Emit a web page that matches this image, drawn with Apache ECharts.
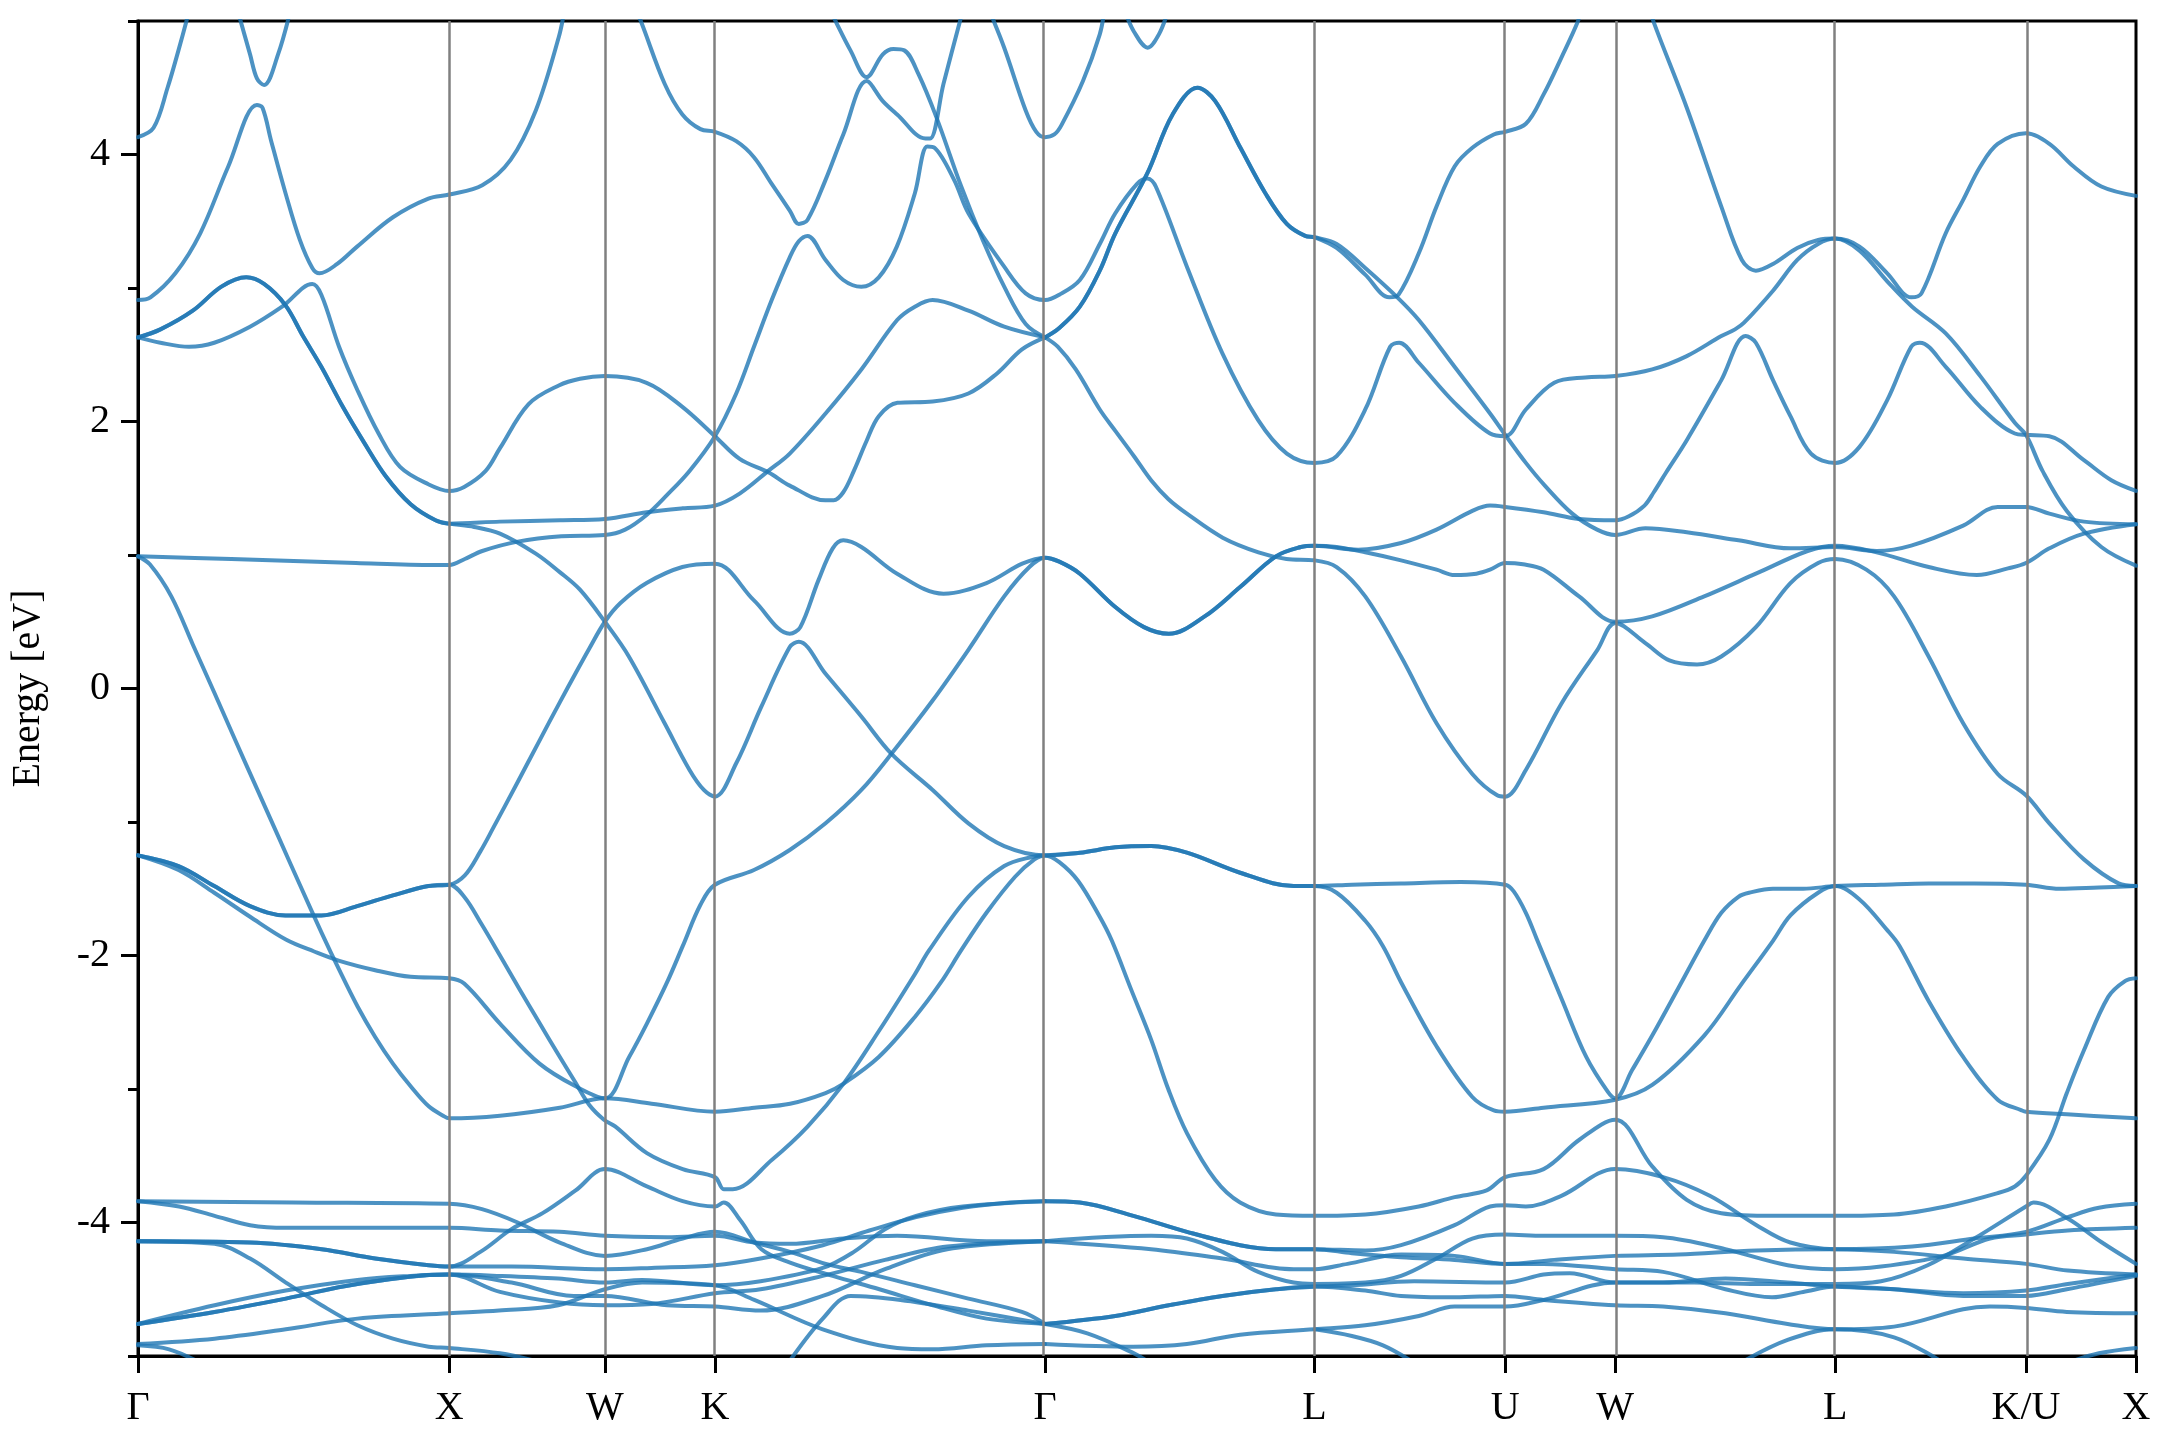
<!DOCTYPE html>
<html>
<head>
<meta charset="utf-8">
<script src="https://cdn.jsdelivr.net/npm/echarts@6/dist/echarts.min.js"></script>
<style>html,body{margin:0;padding:0;background:#fff}#c{width:2160px;height:1440px}</style>
</head>
<body>
<div id="c"></div>
<script>
// high-symmetry path positions and labels
const kTicks = [0, 1, 1.5, 1.8536, 2.9142, 3.7802, 4.3926, 4.7462, 5.4533, 6.0657, 6.4193];
const kLabels = ['Γ', 'X', 'W', 'K', 'Γ', 'L', 'U', 'W', 'L', 'K/U', 'X'];
const yMajorTicks = [-4, -2, 0, 2, 4];
const yMinorTicks = [-5, -3, -1, 1, 3, 5];

// bands: [k, E(eV)]
const band01 = [[0,4.13],[0.05,4.20],[0.095,4.50],[0.13,4.78],[0.165,5.08]];
const band02 = [[0.32,5.08],[0.36,4.75],[0.382,4.57],[0.405,4.52],[0.45,4.75],[0.49,5.08]];
const band03 = [[0,2.91],[0.04,2.93],[0.12,3.11],[0.2,3.41],[0.29,3.91],[0.382,4.37],[0.40,4.35],[0.428,4.10],[0.474,3.71],[0.52,3.36],[0.56,3.15],[0.583,3.11],[0.64,3.18],[0.704,3.31],[0.819,3.53],[0.933,3.67],[1,3.70],[1.106,3.77],[1.197,3.96],[1.278,4.33],[1.352,4.88],[1.37,5.08]];
const band04 = [[0,2.63],[0.072,2.69],[0.176,2.83],[0.268,3.01],[0.348,3.08],[0.405,3.03],[0.474,2.87],[0.53,2.64],[0.589,2.41],[0.658,2.11],[0.727,1.84],[0.796,1.59],[0.876,1.38],[0.956,1.26],[1,1.235],[1.163,1.25],[1.356,1.26],[1.5,1.27],[1.634,1.32],[1.75,1.35],[1.8536,1.37],[1.933,1.46],[2.025,1.63],[2.094,1.76],[2.209,2.06],[2.324,2.39],[2.439,2.76],[2.496,2.86],[2.553,2.91],[2.668,2.83],[2.783,2.71],[2.9142,2.63]];
const band05 = [[0,2.63],[0.072,2.69],[0.176,2.83],[0.268,3.01],[0.348,3.08],[0.405,3.03],[0.474,2.87],[0.53,2.64],[0.589,2.41],[0.658,2.11],[0.727,1.84],[0.796,1.59],[0.876,1.38],[0.956,1.26],[1,1.235],[1.08,1.21],[1.163,1.16],[1.278,1.01],[1.356,0.87],[1.42,0.74],[1.5,0.50],[1.577,0.24],[1.692,-0.26],[1.772,-0.61],[1.818,-0.76],[1.8536,-0.81],[1.922,-0.56],[2.002,-0.14],[2.094,0.31],[2.123,0.35],[2.209,0.11],[2.324,-0.21],[2.421,-0.49],[2.553,-0.76],[2.668,-1.01],[2.783,-1.18],[2.9142,-1.25],[3.026,-1.23],[3.14,-1.19],[3.255,-1.18],[3.37,-1.23],[3.541,-1.38],[3.713,-1.48],[3.7802,-1.48],[3.851,-1.53],[3.943,-1.74],[4.0,-1.93],[4.058,-2.20],[4.172,-2.68],[4.287,-3.06],[4.356,-3.16],[4.3926,-3.17],[4.516,-3.14],[4.7462,-3.08],[4.865,-2.97],[5.032,-2.60],[5.15,-2.22],[5.253,-1.89],[5.309,-1.70],[5.398,-1.53],[5.4533,-1.48],[5.531,-1.58],[5.62,-1.81],[5.66,-1.93],[5.753,-2.34],[5.864,-2.76],[5.975,-3.08],[6.052,-3.16],[6.0657,-3.17],[6.197,-3.19],[6.4193,-3.22]];
const band06 = [[0,2.63],[0.072,2.59],[0.164,2.56],[0.245,2.59],[0.36,2.71],[0.463,2.86],[0.56,3.03],[0.589,2.95],[0.646,2.56],[0.704,2.24],[0.773,1.91],[0.842,1.66],[0.933,1.53],[1,1.48],[1.048,1.51],[1.117,1.63],[1.163,1.80],[1.255,2.13],[1.352,2.27],[1.42,2.32],[1.5,2.34],[1.634,2.29],[1.749,2.11],[1.8536,1.89],[1.933,1.72],[2.025,1.62],[2.094,1.52],[2.209,1.41],[2.235,1.41],[2.266,1.47],[2.30,1.63],[2.34,1.85],[2.38,2.04],[2.44,2.14],[2.553,2.15],[2.668,2.21],[2.76,2.36],[2.84,2.54],[2.9142,2.63]];
const band07 = [[0,0.99],[0.3,0.97],[0.7,0.94],[0.95,0.925],[1,0.925],[1.05,0.97],[1.106,1.03],[1.22,1.10],[1.36,1.14],[1.5,1.15],[1.565,1.19],[1.634,1.30],[1.70,1.45],[1.772,1.63],[1.8536,1.89],[1.922,2.21],[1.979,2.56],[2.036,2.91],[2.094,3.23],[2.123,3.35],[2.151,3.39],[2.209,3.21],[2.266,3.06],[2.324,3.01],[2.38,3.08],[2.438,3.31],[2.496,3.71],[2.536,4.06],[2.559,4.05],[2.622,3.81],[2.668,3.56],[2.783,3.16],[2.852,2.96],[2.9142,2.91],[2.96,2.95],[3.026,3.06],[3.09,3.33],[3.14,3.56],[3.21,3.78],[3.243,3.82],[3.27,3.76],[3.37,3.16],[3.484,2.51],[3.599,2.01],[3.691,1.76],[3.7802,1.69],[3.851,1.74],[3.943,2.09],[4.023,2.56],[4.052,2.59],[4.115,2.44],[4.23,2.14],[4.344,1.91],[4.3926,1.89],[4.459,2.09],[4.55,2.29],[4.65,2.33],[4.7462,2.34],[4.865,2.39],[4.976,2.49],[5.087,2.64],[5.131,2.69],[5.16,2.74],[5.253,2.98],[5.331,3.21],[5.398,3.33],[5.4533,3.37],[5.531,3.28],[5.62,3.05],[5.70,2.86],[5.808,2.66],[5.919,2.34],[6.03,1.99],[6.0657,1.90],[6.119,1.63],[6.197,1.33],[6.308,1.06],[6.4193,0.92]];
const band08 = [[1.60,5.08],[1.617,4.99],[1.692,4.53],[1.749,4.30],[1.807,4.19],[1.8536,4.17],[1.922,4.10],[1.979,3.98],[2.036,3.78],[2.094,3.58],[2.123,3.48],[2.151,3.51],[2.209,3.81],[2.266,4.15],[2.341,4.55],[2.393,4.40],[2.439,4.30],[2.53,4.12],[2.545,4.12],[2.588,4.53],[2.64,4.99],[2.65,5.08]];
const band09 = [[2.225,5.08],[2.243,4.99],[2.289,4.78],[2.341,4.58],[2.393,4.75],[2.427,4.79],[2.462,4.78],[2.508,4.60],[2.565,4.28],[2.645,3.76],[2.714,3.36],[2.783,3.01],[2.852,2.73],[2.9142,2.63]];
const band10 = [[2.735,5.08],[2.783,4.80],[2.852,4.33],[2.886,4.17],[2.9142,4.13],[2.944,4.15],[2.967,4.22],[3.036,4.55],[3.09,4.90],[3.105,5.08]];
const band11 = [[3.17,5.08],[3.2,4.92],[3.244,4.80],[3.28,4.90],[3.31,5.08]];
const band12 = [[2.9142,2.63],[2.96,2.70],[3.026,2.86],[3.09,3.13],[3.14,3.41],[3.243,3.86],[3.324,4.30],[3.404,4.50],[3.461,4.40],[3.542,4.05],[3.622,3.71],[3.691,3.48],[3.75,3.39],[3.7802,3.38],[3.851,3.30],[3.943,3.10],[4.02,2.93],[4.05,2.95],[4.115,3.26],[4.172,3.61],[4.23,3.91],[4.287,4.05],[4.356,4.15],[4.3926,4.17],[4.459,4.23],[4.516,4.45],[4.574,4.73],[4.625,4.99],[4.635,5.08]];
const band13 = [[2.9142,2.63],[2.96,2.70],[3.026,2.86],[3.09,3.13],[3.14,3.41],[3.243,3.86],[3.324,4.30],[3.404,4.50],[3.461,4.40],[3.542,4.05],[3.622,3.71],[3.691,3.48],[3.75,3.39],[3.7802,3.38],[3.851,3.33],[3.943,3.15],[4.046,2.93],[4.115,2.76],[4.23,2.41],[4.344,2.06],[4.3926,1.90],[4.459,1.69],[4.52,1.52],[4.608,1.31],[4.688,1.19],[4.7462,1.15],[4.843,1.20],[4.976,1.17],[5.142,1.11],[5.309,1.05],[5.4533,1.06],[5.586,1.03],[5.697,1.07],[5.864,1.22],[5.975,1.36],[6.0657,1.36],[6.141,1.31],[6.252,1.25],[6.4193,1.23]];
const band14 = [[4.86,5.08],[4.87,4.99],[4.976,4.35],[5.087,3.61],[5.153,3.21],[5.198,3.13],[5.253,3.18],[5.331,3.30],[5.398,3.36],[5.4533,3.37],[5.531,3.31],[5.62,3.11],[5.697,2.93],[5.73,2.96],[5.808,3.41],[5.864,3.66],[5.919,3.91],[5.975,4.08],[6.0657,4.16],[6.141,4.08],[6.219,3.91],[6.308,3.76],[6.4193,3.69]];
const band15 = [[0,-1.25],[0.13,-1.36],[0.245,-1.53],[0.36,-1.71],[0.475,-1.88],[0.566,-1.97],[0.647,-2.04],[0.762,-2.11],[0.876,-2.16],[1,-2.17],[1.048,-2.21],[1.163,-2.51],[1.29,-2.81],[1.406,-2.98],[1.5,-3.07],[1.578,-2.76],[1.635,-2.51],[1.70,-2.20],[1.75,-1.93],[1.807,-1.62],[1.8536,-1.47],[1.979,-1.36],[2.094,-1.21],[2.209,-1.01],[2.324,-0.76],[2.427,-0.47],[2.553,-0.09],[2.668,0.29],[2.783,0.69],[2.864,0.91],[2.9142,0.98],[2.96,0.95],[3.026,0.86],[3.14,0.61],[3.232,0.46],[3.312,0.41],[3.427,0.54],[3.541,0.76],[3.656,0.99],[3.736,1.06],[3.7802,1.07],[3.92,1.04],[4.058,1.09],[4.172,1.19],[4.287,1.33],[4.344,1.37],[4.3926,1.36],[4.516,1.32],[4.63,1.27],[4.7462,1.26],[4.79,1.29],[4.84,1.37],[4.87,1.47],[4.91,1.62],[4.976,1.86],[5.087,2.31],[5.165,2.64],[5.198,2.59],[5.253,2.31],[5.309,2.04],[5.375,1.76],[5.4533,1.69],[5.531,1.81],[5.62,2.16],[5.697,2.56],[5.725,2.59],[5.808,2.41],[5.919,2.11],[6.03,1.91],[6.0657,1.90],[6.141,1.89],[6.252,1.71],[6.34,1.56],[6.4193,1.48]];
const band16 = [[0,-1.25],[0.13,-1.33],[0.245,-1.48],[0.36,-1.63],[0.474,-1.70],[0.589,-1.70],[0.704,-1.63],[0.819,-1.55],[0.933,-1.48],[1,-1.47],[1.05,-1.40],[1.1,-1.22],[1.14,-1.05],[1.22,-0.70],[1.29,-0.39],[1.356,-0.10],[1.405,0.11],[1.45,0.30],[1.5,0.50],[1.55,0.64],[1.634,0.79],[1.749,0.91],[1.8536,0.935],[1.979,0.66],[2.094,0.41],[2.128,0.46],[2.186,0.81],[2.232,1.05],[2.266,1.11],[2.324,1.06],[2.439,0.86],[2.588,0.71],[2.726,0.79],[2.841,0.935],[2.9142,0.98],[2.96,0.95],[3.026,0.86],[3.14,0.61],[3.232,0.46],[3.312,0.41],[3.427,0.54],[3.541,0.76],[3.656,0.99],[3.736,1.06],[3.7802,1.07],[3.851,1.06],[3.943,1.02],[4.058,0.96],[4.172,0.89],[4.23,0.85],[4.30,0.86],[4.344,0.89],[4.3926,0.94],[4.45,0.93],[4.516,0.89],[4.63,0.69],[4.7462,0.50],[4.865,0.54],[5.032,0.69],[5.198,0.86],[5.364,1.03],[5.4533,1.07],[5.586,1.02],[5.753,0.91],[5.908,0.85],[6.008,0.90],[6.0657,0.94],[6.141,1.05],[6.252,1.16],[6.4193,1.23]];
const band17 = [[0,-1.25],[0.13,-1.33],[0.245,-1.48],[0.36,-1.63],[0.474,-1.70],[0.589,-1.70],[0.704,-1.63],[0.819,-1.55],[0.933,-1.48],[1,-1.47],[1.048,-1.56],[1.105,-1.77],[1.163,-2.00],[1.23,-2.27],[1.291,-2.51],[1.35,-2.74],[1.405,-2.95],[1.45,-3.12],[1.497,-3.23],[1.533,-3.28],[1.635,-3.48],[1.75,-3.60],[1.8536,-3.66],[1.882,-3.75],[1.911,-3.75],[2.037,-3.53],[2.152,-3.28],[2.267,-2.96],[2.382,-2.56],[2.496,-2.14],[2.542,-1.96],[2.668,-1.56],[2.783,-1.33],[2.875,-1.26],[2.9142,-1.25],[3.026,-1.23],[3.14,-1.19],[3.255,-1.18],[3.37,-1.23],[3.541,-1.38],[3.713,-1.48],[3.7802,-1.48],[3.9,-1.47],[4.058,-1.46],[4.25,-1.45],[4.3926,-1.47],[4.42,-1.52],[4.459,-1.68],[4.493,-1.87],[4.573,-2.32],[4.653,-2.76],[4.722,-3.02],[4.7462,-3.07],[4.80,-2.86],[4.865,-2.60],[4.95,-2.24],[5.032,-1.89],[5.087,-1.68],[5.142,-1.56],[5.176,-1.53],[5.253,-1.50],[5.35,-1.50],[5.4533,-1.48],[5.6,-1.47],[5.753,-1.46],[5.9,-1.46],[6.0657,-1.47],[6.174,-1.50],[6.3,-1.49],[6.4193,-1.48]];
const band18 = [[0,0.99],[0.038,0.93],[0.107,0.69],[0.176,0.33],[0.245,-0.03],[0.313,-0.39],[0.382,-0.75],[0.451,-1.11],[0.52,-1.47],[0.59,-1.83],[0.647,-2.11],[0.705,-2.38],[0.762,-2.61],[0.819,-2.81],[0.876,-2.98],[0.934,-3.13],[0.98,-3.20],[1,-3.22],[1.163,-3.20],[1.355,-3.14],[1.5,-3.07],[1.65,-3.11],[1.8536,-3.17],[1.98,-3.14],[2.095,-3.11],[2.209,-3.03],[2.267,-2.96],[2.38,-2.76],[2.496,-2.46],[2.58,-2.20],[2.645,-1.96],[2.726,-1.68],[2.818,-1.41],[2.88,-1.28],[2.9142,-1.25],[2.96,-1.30],[3.02,-1.44],[3.09,-1.71],[3.129,-1.89],[3.19,-2.25],[3.255,-2.63],[3.31,-3.00],[3.37,-3.33],[3.461,-3.68],[3.541,-3.85],[3.656,-3.94],[3.7802,-3.95],[3.943,-3.94],[4.115,-3.88],[4.23,-3.81],[4.333,-3.76],[4.3926,-3.66],[4.516,-3.60],[4.631,-3.38],[4.7462,-3.23],[4.865,-3.58],[4.976,-3.83],[5.087,-3.93],[5.253,-3.95],[5.4533,-3.95],[5.642,-3.94],[5.808,-3.88],[5.975,-3.78],[6.03,-3.73],[6.0657,-3.65],[6.141,-3.38],[6.197,-3.03],[6.252,-2.71],[6.33,-2.31],[6.385,-2.19],[6.4193,-2.17]];
const band19 = [[2.9142,2.63],[2.955,2.56],[3.013,2.39],[3.09,2.09],[3.14,1.93],[3.2,1.74],[3.255,1.56],[3.31,1.42],[3.37,1.31],[3.485,1.13],[3.6,1.02],[3.69,0.97],[3.7802,0.96],[3.851,0.91],[3.943,0.69],[4.058,0.24],[4.172,-0.26],[4.287,-0.64],[4.367,-0.80],[4.3926,-0.81],[4.459,-0.61],[4.574,-0.11],[4.689,0.29],[4.7462,0.49],[4.843,0.34],[4.92,0.21],[5.009,0.18],[5.087,0.24],[5.198,0.46],[5.309,0.79],[5.398,0.94],[5.4533,0.97],[5.553,0.89],[5.642,0.69],[5.753,0.24],[5.864,-0.26],[5.975,-0.64],[6.0657,-0.80],[6.141,-1.01],[6.252,-1.28],[6.363,-1.46],[6.4193,-1.48]];

// lower d-band cluster
const dband01 = [[0,-3.84],[0.5,-3.85],[1,-3.86],[1.105,-3.90],[1.22,-4.0],[1.355,-4.15],[1.5,-4.25],[1.635,-4.20],[1.75,-4.12],[1.8536,-4.07],[1.98,-4.15],[2.095,-4.22],[2.21,-4.31],[2.324,-4.37],[2.496,-4.47],[2.668,-4.57],[2.84,-4.67],[2.9142,-4.76]];
const dband02 = [[0,-3.84],[0.132,-3.88],[0.246,-3.95],[0.36,-4.02],[0.475,-4.04],[1,-4.04],[1.163,-4.06],[1.355,-4.07],[1.5,-4.10],[1.7,-4.11],[1.8536,-4.10],[1.98,-4.15],[2.095,-4.16],[2.267,-4.12],[2.439,-4.10],[2.726,-4.14],[2.9142,-4.14]];
const dband03 = [[0,-4.14],[0.36,-4.15],[0.59,-4.20],[0.762,-4.27],[0.934,-4.32],[1,-4.33],[1.1,-4.22],[1.2,-4.05],[1.3,-3.93],[1.406,-3.76],[1.5,-3.60],[1.635,-3.73],[1.75,-3.84],[1.8536,-3.88],[1.882,-3.85],[1.934,-3.98],[2.003,-4.20],[2.095,-4.30],[2.232,-4.40],[2.382,-4.50],[2.554,-4.62],[2.726,-4.72],[2.9142,-4.76]];
const dband04 = [[0,-4.14],[0.36,-4.15],[0.59,-4.20],[0.762,-4.27],[0.934,-4.32],[1,-4.33],[1.2,-4.33],[1.5,-4.35],[1.65,-4.34],[1.8536,-4.32],[2.0,-4.27],[2.2,-4.17],[2.35,-4.06],[2.5,-3.96],[2.65,-3.89],[2.8,-3.85],[2.9142,-3.84]];
const dband05 = [[0,-4.14],[0.246,-4.16],[0.36,-4.27],[0.475,-4.45],[0.59,-4.62],[0.705,-4.77],[0.819,-4.87],[0.934,-4.93],[1,-4.94],[1.163,-4.98],[1.3,-5.05]];
const dband06 = [[0,-4.76],[0.246,-4.62],[0.475,-4.51],[0.705,-4.43],[0.876,-4.40],[1,-4.39],[1.163,-4.40],[1.35,-4.42],[1.5,-4.45],[1.62,-4.43],[1.8536,-4.47],[2.0,-4.44],[2.2,-4.34],[2.3,-4.22],[2.4,-4.05],[2.5,-3.95],[2.65,-3.88],[2.9142,-3.84]];
const dband07 = [[0,-4.76],[0.246,-4.67],[0.475,-4.57],[0.705,-4.46],[1,-4.39],[1.163,-4.52],[1.355,-4.60],[1.5,-4.62],[1.65,-4.61],[1.8536,-4.53],[2.0,-4.50],[2.2,-4.40],[2.4,-4.28],[2.6,-4.18],[2.9142,-4.14]];
const dband08 = [[0,-4.76],[0.246,-4.67],[0.475,-4.57],[0.705,-4.46],[1,-4.39],[1.2,-4.45],[1.4,-4.55],[1.5,-4.55],[1.7,-4.62],[1.8536,-4.63],[2.0,-4.66],[2.2,-4.55],[2.4,-4.35],[2.6,-4.20],[2.9142,-4.14]];
const dband09 = [[0,-4.91],[0.246,-4.87],[0.475,-4.80],[0.705,-4.72],[1,-4.68],[1.16,-4.66],[1.35,-4.62],[1.5,-4.50],[1.62,-4.45],[1.8536,-4.47],[1.98,-4.58],[2.2,-4.80],[2.439,-4.94],[2.553,-4.95],[2.726,-4.92],[2.9142,-4.91]];
const dband10 = [[0,-4.92],[0.1,-4.95],[0.2,-5.05]];
const dband11 = [[2.09,-5.05],[2.2,-4.72],[2.29,-4.55],[2.45,-4.58],[2.668,-4.66],[2.9142,-4.76]];
const dband12 = [[2.9142,-3.84],[3.026,-3.85],[3.198,-3.95],[3.37,-4.07],[3.541,-4.17],[3.656,-4.20],[3.7802,-4.20],[3.943,-4.21],[4.058,-4.17],[4.23,-4.02],[4.344,-3.88],[4.3926,-3.87],[4.459,-3.88],[4.573,-3.80],[4.7462,-3.60],[4.9,-3.66],[5.05,-3.80],[5.2,-4.02],[5.309,-4.15],[5.4533,-4.20],[5.7,-4.18],[5.9,-4.12],[6.0657,-4.07],[6.2,-3.96],[6.3,-3.89],[6.4193,-3.86]];
const dband13 = [[2.9142,-3.84],[3.026,-3.85],[3.198,-3.95],[3.37,-4.07],[3.541,-4.17],[3.656,-4.20],[3.7802,-4.20],[3.9,-4.23],[4.058,-4.26],[4.23,-4.28],[4.3926,-4.31],[4.516,-4.31],[4.7462,-4.35],[4.9,-4.37],[5.1,-4.50],[5.25,-4.56],[5.35,-4.52],[5.4533,-4.48],[5.642,-4.50],[5.864,-4.55],[6.0657,-4.55],[6.197,-4.50],[6.4193,-4.40]];
const dband14 = [[2.9142,-4.14],[3.255,-4.10],[3.37,-4.12],[3.484,-4.22],[3.599,-4.37],[3.713,-4.45],[3.7802,-4.46],[3.943,-4.45],[4.058,-4.40],[4.172,-4.27],[4.287,-4.12],[4.3926,-4.09],[4.516,-4.10],[4.7462,-4.10],[4.9,-4.11],[5.1,-4.20],[5.3,-4.32],[5.4533,-4.35],[5.6,-4.33],[5.8,-4.25],[5.95,-4.12],[6.0657,-4.09],[6.2,-4.06],[6.4193,-4.04]];
const dband15 = [[2.9142,-4.14],[3.255,-4.20],[3.484,-4.27],[3.713,-4.35],[3.7802,-4.35],[3.886,-4.31],[4.058,-4.24],[4.23,-4.25],[4.3926,-4.31],[4.55,-4.28],[4.7462,-4.25],[4.95,-4.24],[5.2,-4.21],[5.4533,-4.20],[5.642,-4.22],[5.864,-4.27],[6.0657,-4.31],[6.2,-4.36],[6.4193,-4.39]];
const dband16 = [[2.9142,-4.76],[3.14,-4.70],[3.312,-4.62],[3.484,-4.55],[3.656,-4.50],[3.7802,-4.48],[3.943,-4.51],[4.058,-4.55],[4.23,-4.56],[4.3926,-4.55],[4.516,-4.58],[4.7462,-4.62],[4.9,-4.63],[5.1,-4.68],[5.3,-4.76],[5.4533,-4.80],[5.642,-4.78],[5.864,-4.65],[5.95,-4.63],[6.0657,-4.64],[6.197,-4.67],[6.4193,-4.68]];
const dband17 = [[2.9142,-4.76],[3.14,-4.70],[3.312,-4.62],[3.484,-4.55],[3.656,-4.50],[3.7802,-4.48],[3.9,-4.47],[4.1,-4.44],[4.3926,-4.45],[4.516,-4.39],[4.6,-4.38],[4.7462,-4.45],[5.0,-4.45],[5.2,-4.46],[5.4533,-4.46],[5.6,-4.44],[5.75,-4.32],[5.9,-4.12],[6.0657,-3.88],[6.09,-3.85],[6.2,-3.97],[6.31,-4.15],[6.4193,-4.31]];
const dband18 = [[2.9142,-4.91],[3.198,-4.93],[3.37,-4.91],[3.541,-4.84],[3.7802,-4.80],[3.943,-4.77],[4.115,-4.70],[4.23,-4.63],[4.3926,-4.63],[4.516,-4.58],[4.7462,-4.45],[4.9,-4.45],[5.1,-4.42],[5.3,-4.45],[5.4533,-4.48],[5.642,-4.50],[5.864,-4.53],[6.0657,-4.51],[6.2,-4.46],[6.4193,-4.39]];
const dband19 = [[2.9142,-4.76],[3.05,-4.83],[3.2,-4.98],[3.25,-5.05]];
const dband20 = [[3.7802,-4.80],[3.9,-4.85],[4.0,-4.92],[4.1,-5.05]];
const dband21 = [[5.15,-5.05],[5.3,-4.88],[5.4533,-4.80],[5.642,-4.86],[5.8,-5.05]];
const dband22 = [[6.2,-5.05],[6.3,-4.98],[6.4193,-4.94]];

const allBands = [band01,band02,band03,band04,band05,band06,band07,band08,band09,band10,band11,band12,band13,band14,band15,band16,band17,band18,band19,
  dband01,dband02,dband03,dband04,dband05,dband06,dband07,dband08,dband09,dband10,dband11,dband12,dband13,dband14,dband15,dband16,dband17,dband18,dband19,dband20,dband21,dband22];

const serif = 'Liberation Serif';
const chart = echarts.init(document.getElementById('c'), null, {renderer: 'canvas'});

const bandSeries = allBands.map(d => ({
  type: 'line', data: d, showSymbol: false, symbol: 'none', smooth: 0.35,
  clip: true, silent: true, animation: false, z: 3,
  lineStyle: {color: '#1f77b4', width: 4, opacity: 0.8, cap: 'round', join: 'round'}
}));

const vlineSeries = {
  type: 'line', data: [], silent: true, animation: false, z: 2,
  markLine: {
    silent: true, symbol: ['none', 'none'], animation: false,
    label: {show: false},
    lineStyle: {color: '#808080', width: 2.5, type: 'solid', opacity: 1},
    data: kTicks.slice(1, -1).map(k => ({xAxis: k}))
  }
};

chart.setOption({
  backgroundColor: '#fff',
  animation: false,
  grid: {left: 130, right: 24, top: 21, bottom: 84, show: true, borderColor: '#000', borderWidth: 3, backgroundColor: 'transparent'},
  xAxis: {
    type: 'value', min: 0, max: kTicks[kTicks.length - 1],
    axisLine: {show: true, onZero: false, lineStyle: {color: '#000', width: 3}},
    axisTick: {show: true, customValues: kTicks, length: 17, inside: false, lineStyle: {color: '#000', width: 3}},
    axisLabel: {
      show: true, customValues: kTicks, margin: 32, color: '#000', fontFamily: serif, fontSize: 40,
      hideOverlap: false, showMinLabel: true, showMaxLabel: true,
      formatter: v => { const i = kTicks.findIndex(t => Math.abs(t - v) < 1e-6); return i >= 0 ? kLabels[i] : ''; }
    },
    splitLine: {show: false}
  },
  yAxis: [{
    type: 'value', min: -5, max: 5,
    name: 'Energy [eV]', nameLocation: 'middle', nameGap: 90, nameRotate: 90,
    nameTextStyle: {color: '#000', fontFamily: serif, fontSize: 40},
    axisLine: {show: true, onZero: false, lineStyle: {color: '#000', width: 3}},
    axisTick: {show: true, customValues: yMajorTicks, length: 17, lineStyle: {color: '#000', width: 3}},
    axisLabel: {show: true, customValues: yMajorTicks, margin: 28, color: '#000', fontFamily: serif, fontSize: 40},
    splitLine: {show: false}
  }, {
    type: 'value', min: -5, max: 5, position: 'left', offset: 0,
    axisLine: {show: false},
    axisTick: {show: true, customValues: yMinorTicks, length: 10, lineStyle: {color: '#000', width: 3}},
    axisLabel: {show: false},
    splitLine: {show: false}
  }],
  series: [vlineSeries].concat(bandSeries)
});
</script>
</body>
</html>
